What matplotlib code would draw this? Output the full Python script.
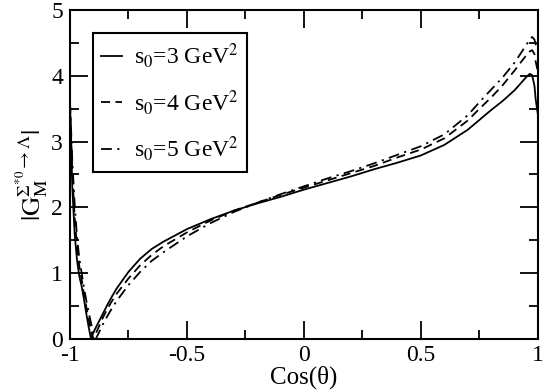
import matplotlib
matplotlib.use("Agg")
import matplotlib.pyplot as plt
from matplotlib.ticker import MultipleLocator

plt.rcParams['font.family'] = ['Liberation Serif', 'DejaVu Serif']
plt.rcParams['mathtext.fontset'] = 'stix'
plt.rcParams['axes.unicode_minus'] = False

cos_theta = [-1.00, -0.99, -0.98, -0.97, -0.96, -0.95, -0.94, -0.93, -0.92, -0.91,
             -0.90, -0.89, -0.88, -0.86, -0.84, -0.82, -0.80, -0.75, -0.70, -0.65,
             -0.60, -0.50, -0.40, -0.30, -0.20, -0.10, 0.00, 0.10, 0.20, 0.30,
             0.40, 0.50, 0.60, 0.70, 0.75, 0.80, 0.85, 0.90, 0.93, 0.95,
             0.965, 0.975, 0.985, 0.99, 1.00]

gm_s0_3 = [3.60, 2.30, 1.60, 1.20, 0.95, 0.80, 0.60, 0.38, 0.18, 0.00,
           0.10, 0.17, 0.24, 0.38, 0.52, 0.65, 0.77, 1.02, 1.22, 1.37,
           1.48, 1.67, 1.82, 1.95, 2.06, 2.16, 2.27, 2.37, 2.47, 2.58,
           2.68, 2.79, 2.95, 3.18, 3.33, 3.48, 3.62, 3.78, 3.90, 3.98,
           4.03, 4.01, 3.85, 3.65, 3.40]

gm_s0_4 = [3.60, 2.50, 1.85, 1.40, 1.10, 0.90, 0.68, 0.48, 0.30, 0.13,
           0.00, 0.08, 0.16, 0.32, 0.46, 0.58, 0.69, 0.92, 1.12, 1.28,
           1.41, 1.62, 1.80, 1.95, 2.07, 2.19, 2.30, 2.41, 2.52, 2.63,
           2.76, 2.88, 3.05, 3.32, 3.50, 3.67, 3.86, 4.08, 4.22, 4.31,
           4.37, 4.39, 4.33, 4.22, 4.05]

gm_s0_5 = [3.60, 2.70, 2.05, 1.55, 1.22, 1.00, 0.78, 0.58, 0.40, 0.24,
           0.10, 0.00, 0.07, 0.22, 0.35, 0.47, 0.58, 0.82, 1.02, 1.19,
           1.32, 1.56, 1.76, 1.93, 2.07, 2.20, 2.32, 2.44, 2.55, 2.67,
           2.80, 2.93, 3.11, 3.40, 3.60, 3.79, 3.98, 4.20, 4.36, 4.47,
           4.55, 4.59, 4.55, 4.48, 4.38]

labels = [r's$_0$=3 GeV$^2$', r's$_0$=4 GeV$^2$', r's$_0$=5 GeV$^2$']

fig = plt.figure(figsize=(5.45, 3.9), dpi=100)
ax = fig.add_axes([0.1284, 0.1308, 0.8587, 0.8436])

ax.plot(cos_theta, gm_s0_3, color='black', lw=1.3, ls='-', label=labels[0])
ax.plot(cos_theta, gm_s0_4, color='black', lw=1.3, ls=(0, (5, 3)), label=labels[1])
ax.plot(cos_theta, gm_s0_5, color='black', lw=1.3, ls=(0, (6, 3, 1.2, 3)), label=labels[2])

ax.set_xlim(-1, 1)
ax.set_ylim(0, 5)
ax.xaxis.set_major_locator(MultipleLocator(0.5))
ax.xaxis.set_minor_locator(MultipleLocator(0.25))
ax.yaxis.set_major_locator(MultipleLocator(1))
ax.yaxis.set_minor_locator(MultipleLocator(0.5))
ax.set_xticks([-1, -0.5, 0, 0.5, 1])
ax.set_xticklabels(['-1', '-0.5', '0', '0.5', '1'])

ax.tick_params(which='both', direction='in', top=True, right=True,
               labelsize=17, width=1.3)
ax.tick_params(which='major', length=13)
ax.tick_params(which='minor', length=6.5)
ax.tick_params(axis='x', pad=4)
ax.tick_params(axis='y', pad=5)
for s in ax.spines.values():
    s.set_linewidth(1.5)

ax.set_xlabel('Cos(θ)', fontsize=18, labelpad=0)
ax.set_ylabel(r'$|\mathrm{G}_\mathrm{M}^{\Sigma^{*0}\rightarrow\Lambda}|$',
              fontsize=19, labelpad=0)

leg = ax.legend(loc='upper left', bbox_to_anchor=(0.049, 0.93), fontsize=17,
                handlelength=0.9, handletextpad=0.5, borderpad=0.35,
                labelspacing=0.75, borderaxespad=0, fancybox=False, framealpha=1)
leg.get_frame().set_edgecolor('black')
leg.get_frame().set_linewidth(1.5)

fig.savefig('out.png', dpi=100)
